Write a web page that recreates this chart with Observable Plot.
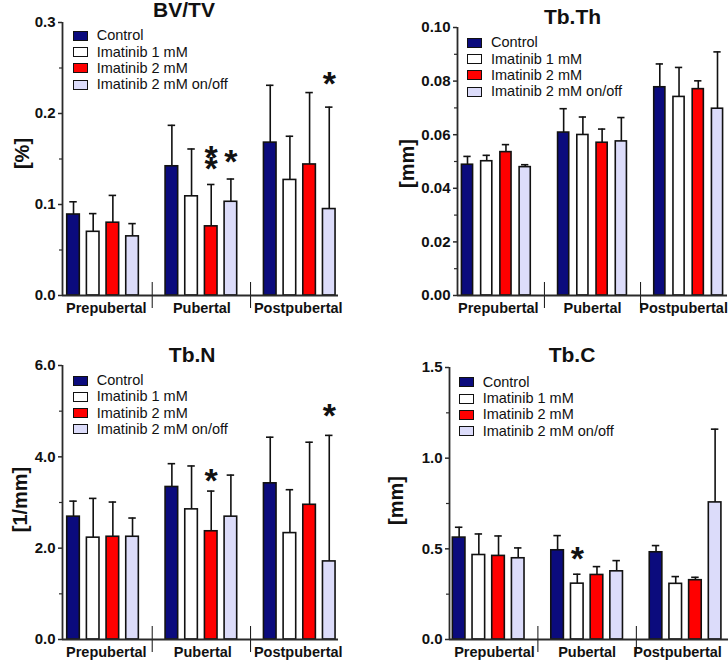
<!DOCTYPE html>
<html><head><meta charset="utf-8">
<script src="https://cdn.jsdelivr.net/npm/d3@7"></script>
<script src="https://cdn.jsdelivr.net/npm/@observablehq/plot@0.6"></script>
<style>
body{margin:0;background:#fff;}
#root{position:relative;width:728px;height:661px;overflow:hidden;font-family:"Liberation Sans",Arial,sans-serif;}
.panel{position:absolute;}
.panel svg{overflow:visible;}
.panel svg g[aria-label="y-axis tick label"]{font-size:15px !important;font-weight:bold !important;}
.legend{position:absolute;left:0;top:0;font-size:14.5px;color:#111;}
.legend .sw{position:absolute;box-sizing:border-box;width:15px;height:10px;border:1.5px solid #111;}
.legend .tx{position:absolute;white-space:nowrap;line-height:16px;}
</style></head><body><div id="root"></div>
<script>
// ---- data ----
const groups = ["Prepubertal", "Pubertal", "Postpubertal"];
const series = ["Control", "Imatinib 1 mM", "Imatinib 2 mM", "Imatinib 2 mM on/off"];
const colors = ["#0b0b7d", "#ffffff", "#ff0000", "#dcdcfa"];

const bvtvMean = [[0.089, 0.070, 0.080, 0.065], [0.142, 0.109, 0.076, 0.103], [0.168, 0.127, 0.144, 0.095]];
const bvtvErr  = [[0.103, 0.090, 0.110, 0.079], [0.187, 0.161, 0.122, 0.128], [0.231, 0.175, 0.223, 0.207]];
const bvtvStars = [{g: 1, s: 2, y: 0.1457, text: "*\n*"}, {g: 1, s: 3, y: 0.147, text: "*"}, {g: 2, s: 3, y: 0.233, text: "*"}];
const bvtvTicks = [0, 0.1, 0.2, 0.3];
const bvtvMinor = [0.05, 0.15, 0.25];

const tbthMean = [[0.0488, 0.0501, 0.0535, 0.0479], [0.0608, 0.0599, 0.0570, 0.0575], [0.0777, 0.0741, 0.0770, 0.0697]];
const tbthErr  = [[0.0519, 0.0523, 0.0563, 0.0488], [0.0697, 0.0666, 0.0621, 0.0664], [0.0864, 0.0851, 0.0801, 0.0909]];
const tbthStars = [];
const tbthTicks = [0, 0.02, 0.04, 0.06, 0.08, 0.10];
const tbthMinor = [0.01, 0.03, 0.05, 0.07, 0.09];

const tbnMean = [[2.69, 2.23, 2.25, 2.25], [3.34, 2.85, 2.37, 2.69], [3.42, 2.33, 2.95, 1.71]];
const tbnErr  = [[3.03, 3.09, 3.01, 2.66], [3.85, 3.80, 3.25, 3.60], [4.43, 3.28, 4.32, 4.47]];
const tbnStars = [{g: 1, s: 2, y: 3.48, text: "*"}, {g: 2, s: 3, y: 4.90, text: "*"}];
const tbnTicks = [0, 2, 4, 6];
const tbnMinor = [1, 3, 5];

const tbcMean = [[0.562, 0.466, 0.461, 0.448], [0.492, 0.308, 0.356, 0.376], [0.481, 0.307, 0.327, 0.756]];
const tbcErr  = [[0.619, 0.582, 0.571, 0.505], [0.573, 0.360, 0.402, 0.435], [0.518, 0.347, 0.343, 1.160]];
const tbcStars = [{g: 1, s: 1, y: 0.445, text: "*"}];
const tbcTicks = [0, 0.5, 1.0, 1.5];
const tbcMinor = [0.25, 0.75, 1.25];

// ---- layout ----
const panels = [
  {title: "BV/TV", unit: "[%]", mean: bvtvMean, err: bvtvErr, stars: bvtvStars, ticks: bvtvTicks, minor: bvtvMinor, fmt: ".1f",
   left: 0, top: 0, width: 364, height: 330, mt: 22, mb: 35, ml: 62, mr: 26, xdom: [-0.56, 13.47], half: 0.32,
   titleX: 183.5, titleBase: 16.8, unitX: 21.7, unitY: 153, lx: 73, ly: 35.7, tOff: 23.7, gShift: [3.3, 0.5, -1.5]},
  {title: "Tb.Th", unit: "[mm]", mean: tbthMean, err: tbthErr, stars: tbthStars, ticks: tbthTicks, minor: tbthMinor, fmt: ".2f",
   left: 364, top: 0, width: 364, height: 330, mt: 27, mb: 35, ml: 93, mr: 1, xdom: [-0.52, 13.52], half: 0.29,
   titleX: 208, titleBase: 23.3, unitX: 43, unitY: 163, lx: 102.7, ly: 42.7, tOff: 24.3, gShift: [2, 0, -5]},
  {title: "Tb.N", unit: "[1/mm]", mean: tbnMean, err: tbnErr, stars: tbnStars, ticks: tbnTicks, minor: tbnMinor, fmt: ".1f",
   left: 0, top: 330, width: 364, height: 331, mt: 35, mb: 22, ml: 62, mr: 26, xdom: [-0.56, 13.47], half: 0.32,
   titleX: 191.7, titleBase: 31.7, unitX: 20, unitY: 169, lx: 73.3, ly: 50.5, tOff: 23.4, gShift: [3.3, 1.4, -1.5]},
  {title: "Tb.C", unit: "[mm]", mean: tbcMean, err: tbcErr, stars: tbcStars, ticks: tbcTicks, minor: tbcMinor, fmt: ".1f",
   left: 364, top: 330, width: 364, height: 331, mt: 37, mb: 22, ml: 85, mr: 0, xdom: [-0.49, 13.68], half: 0.32,
   titleX: 207.5, titleBase: 31.7, unitX: 32.5, unitY: 170, lx: 95.3, ly: 52.3, tOff: 23.4, gShift: [5.8, 0, -8]}
];

const root = document.getElementById("root");
const ink = "#111";
const axisInk = "#2a2a2a";
const cap = 0.19;
const slots = 5;

for (const p of panels) {
  const data = [];
  groups.forEach((g, gi) => series.forEach((s, si) => data.push({
    group: g, series: s, pos: gi * slots + si, mean: p.mean[gi][si], err: p.err[gi][si]
  })));
  const starData = p.stars.map(d => ({pos: d.g * slots + d.s, y: d.y, text: d.text}));
  const ymax = p.ticks[p.ticks.length - 1];
  const starSize = 34;
  const titleSize = 21;

  const groupMarks = groups.map((g, gi) => Plot.text([g], {
    x: () => gi * slots + 1.5, y: () => 0, text: d => d, lineAnchor: "top", dy: 7, dx: p.gShift[gi],
    fontSize: 14.5, fontWeight: "bold", fill: ink
  }));

  const svg = Plot.plot({
    width: p.width, height: p.height,
    marginTop: p.mt, marginBottom: p.mb, marginLeft: p.ml, marginRight: p.mr,
    x: {domain: p.xdom, axis: null},
    y: {domain: [0, ymax], axis: null},
    color: {domain: series, range: colors},
    style: {fontFamily: "Liberation Sans, Arial, sans-serif", color: ink, background: "transparent"},
    marks: [
      Plot.ruleX(data, {x: "pos", y1: "mean", y2: "err", stroke: ink, strokeWidth: 1.6}),
      Plot.ruleY(data, {y: "err", x1: d => d.pos - cap, x2: d => d.pos + cap, stroke: ink, strokeWidth: 1.6}),
      Plot.rect(data, {x1: d => d.pos - p.half, x2: d => d.pos + p.half, y1: d => 0, y2: "mean", fill: "series", stroke: ink, strokeWidth: 1.6}),
      Plot.ruleX([4, 9].map(v => ({v})), {x: "v", y1: d => 0, y2: d => 0, insetTop: 13, insetBottom: 13, stroke: ink, strokeWidth: 1}),
      Plot.ruleY([0], {stroke: axisInk, strokeWidth: 1.8}),
      Plot.ruleX([p.xdom[0]], {stroke: axisInk, strokeWidth: 1.8}),
      Plot.axisY({ticks: p.ticks, tickFormat: d3.format(p.fmt), tickSize: 4, tickPadding: 3, label: null,
                  fontSize: 15, fontWeight: "bold", stroke: axisInk, strokeWidth: 1.5}),
      Plot.axisY({ticks: p.minor, tickFormat: () => "", tickSize: 3, label: null, stroke: axisInk, strokeWidth: 1.2}),
      ...groupMarks,
      Plot.text(starData, {x: "pos", y: "y", text: "text", fontSize: starSize, fontWeight: "bold", lineHeight: 0.34,
                           lineAnchor: "middle", dy: 0.235 * starSize, fill: ink}),
      Plot.text([p.title], {frameAnchor: "top-left", dx: p.titleX - p.ml, dy: p.titleBase - 0.32 * titleSize - p.mt,
                            lineAnchor: "middle", fontSize: titleSize, fontWeight: "bold", textAnchor: "middle", fill: ink}),
      Plot.text([p.unit], {frameAnchor: "top-left", dx: p.unitX - p.ml, dy: p.unitY - p.mt, rotate: -90,
                           lineAnchor: "middle", fontSize: 20, fontWeight: "bold", textAnchor: "middle", fill: ink})
    ]
  });

  const div = document.createElement("div");
  div.className = "panel";
  div.style.left = p.left + "px";
  div.style.top = p.top + "px";
  div.style.width = p.width + "px";
  div.style.height = p.height + "px";
  div.appendChild(svg);

  const leg = document.createElement("div");
  leg.className = "legend";
  series.forEach((s, i) => {
    const cy = p.ly + i * 16.3;
    const sw = document.createElement("div");
    sw.className = "sw";
    sw.style.left = p.lx + "px";
    sw.style.top = (cy - 5) + "px";
    sw.style.background = colors[i];
    const tx = document.createElement("div");
    tx.className = "tx";
    tx.style.left = (p.lx + p.tOff) + "px";
    tx.style.top = (cy - 8.5) + "px";
    tx.textContent = s;
    leg.appendChild(sw);
    leg.appendChild(tx);
  });
  div.appendChild(leg);
  root.appendChild(div);
}
</script></body></html>
